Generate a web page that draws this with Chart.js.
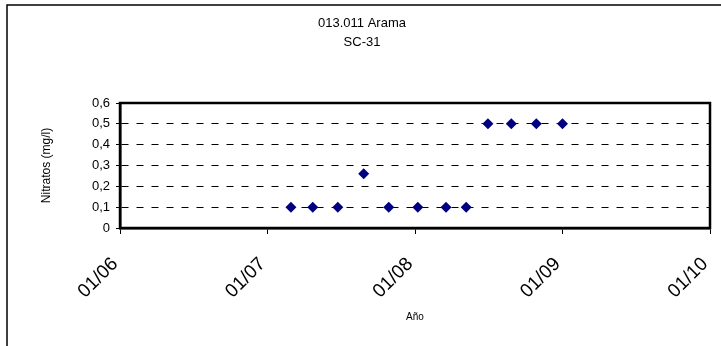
<!DOCTYPE html>
<html>
<head>
<meta charset="utf-8">
<script src="https://cdn.jsdelivr.net/npm/chart.js@4/dist/chart.umd.min.js"></script>
<style>
  html, body { margin: 0; padding: 0; background: #fff; }
</style>
</head>
<body>
<canvas id="grafic" width="721" height="346"></canvas>
<script>
const titol = ['013.011 Arama', 'SC-31'];
const dates = ['2007-02-28', '2007-04-23', '2007-06-24', '2007-08-27', '2007-10-28', '2008-01-08',
               '2008-03-18', '2008-05-07', '2008-06-30', '2008-08-27', '2008-10-28', '2009-01-01'];
const nitrats = [0.1, 0.1, 0.1, 0.26, 0.1, 0.1, 0.1, 0.1, 0.5, 0.5, 0.5, 0.5];
const anysEix = [2006, 2007, 2008, 2009, 2010];
const valorsY = [0, 0.1, 0.2, 0.3, 0.4, 0.5, 0.6];

// data -> any decimal (l'eix és lineal, sense adaptador de dates)
function anyDecimal(d) {
    const [a, m, dia] = d.split('-').map(Number);
    const inici = Date.UTC(a, 0, 1);
    const fi = Date.UTC(a + 1, 0, 1);
    return a + (Date.UTC(a, m - 1, dia) - inici) / (fi - inici);
}

const FONT = 'Liberation Sans, Arial, sans-serif';

// marc exterior, marc de l'àrea i títol
const decoracio = {
    id: 'decoracio',
    afterDraw(chart) {
        const { ctx, chartArea: a } = chart;
        ctx.save();
        ctx.strokeStyle = '#000';
        ctx.lineWidth = 1.5;
        ctx.beginPath();
        ctx.moveTo(7, 346);
        ctx.lineTo(7, 5);
        ctx.lineTo(721, 5);
        ctx.stroke();

        ctx.lineWidth = 2.5;
        ctx.strokeRect(a.left, a.top, a.right - a.left, a.bottom - a.top);

        ctx.fillStyle = '#000';
        ctx.font = '13px ' + FONT;
        ctx.textAlign = 'center';
        ctx.textBaseline = 'middle';
        ctx.fillText(titol[0], 362, 23);
        ctx.fillText(titol[1], 362, 42);
        ctx.restore();
    }
};

new Chart(document.getElementById('grafic'), {
    type: 'scatter',
    data: {
        datasets: [{
            data: dates.map((d, i) => ({ x: anyDecimal(d), y: nitrats[i] })),
            pointStyle: 'rectRot',
            radius: 5.5,
            backgroundColor: '#000080',
            borderColor: '#000080',
            borderWidth: 0
        }]
    },
    options: {
        responsive: false,
        animation: false,
        devicePixelRatio: 1,
        layout: { padding: { top: 103, right: 11, left: 0, bottom: 0 } },
        plugins: {
            legend: { display: false },
            tooltip: { enabled: false }
        },
        scales: {
            x: {
                type: 'linear',
                min: anysEix[0],
                max: anysEix[anysEix.length - 1],
                afterBuildTicks: s => { s.ticks = anysEix.map(v => ({ value: v })); },
                afterFit: s => { s.height = 118; s.paddingLeft = 0; s.paddingRight = 0; },
                ticks: {
                    callback: v => '01/' + String(v).slice(2),
                    minRotation: 45,
                    maxRotation: 45,
                    color: '#000',
                    padding: 19,
                    labelOffset: -5,
                    font: { family: FONT, size: 19 }
                },
                grid: { drawOnChartArea: false, tickLength: 6, color: '#000' },
                border: { color: '#000', width: 2.5 },
                title: {
                    display: true,
                    text: 'Año',
                    color: '#000',
                    font: { family: FONT, size: 10 },
                    padding: { top: 0, bottom: 23 }
                }
            },
            y: {
                min: 0,
                max: 0.6,
                afterBuildTicks: s => { s.ticks = valorsY.map(v => ({ value: v })); },
                afterFit: s => { s.width = 120; },
                ticks: {
                    callback: v => v === 0 ? '0' : v.toFixed(1).replace('.', ','),
                    color: '#000',
                    padding: 6,
                    font: { family: FONT, size: 13 }
                },
                grid: {
                    color: '#000',
                    lineWidth: 1,
                    tickLength: 4,
                    tickColor: '#000',
                    tickBorderDash: [1, 0]
                },
                border: { color: '#000', width: 2.5, dash: [7, 8] },
                title: {
                    display: true,
                    text: 'Nitratos (mg/l)',
                    color: '#000',
                    font: { family: FONT, size: 12 },
                    padding: { top: 39, bottom: 0 }
                }
            }
        }
    },
    plugins: [decoracio]
});
</script>
</body>
</html>
